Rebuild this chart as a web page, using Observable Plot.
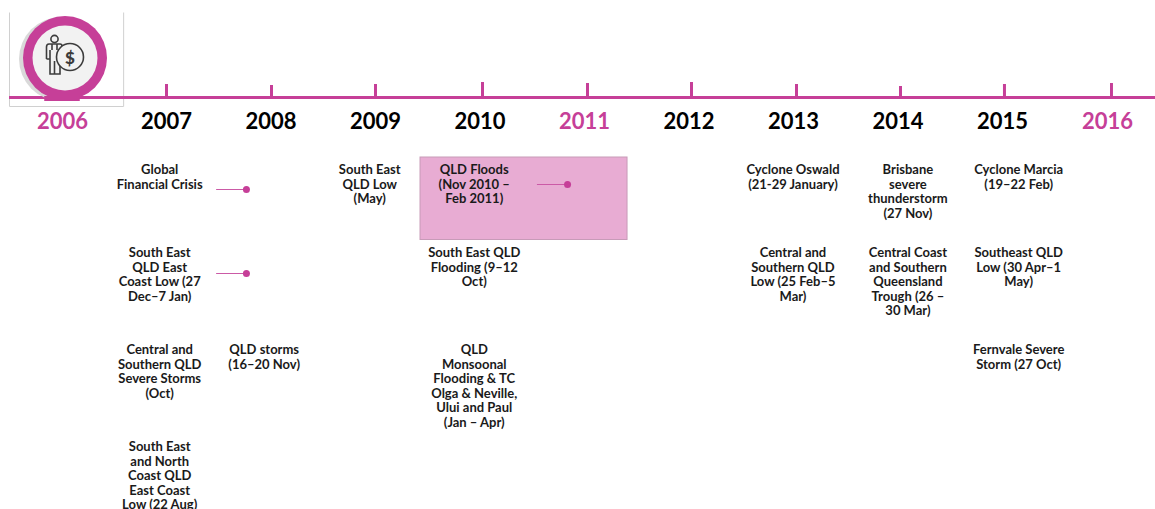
<!DOCTYPE html>
<html><head><meta charset="utf-8">
<script src="https://cdn.jsdelivr.net/npm/d3@7"></script>
<script src="https://cdn.jsdelivr.net/npm/@observablehq/plot@0.6"></script>
<style>html,body{margin:0;padding:0;background:#fff;overflow:hidden}svg{display:block}</style>
</head><body><div id="chart"></div>
<script>
const magenta = "#c63f98";
const years = [2006,2007,2008,2009,2010,2011,2012,2013,2014,2015,2016];
const labelYears = [2006,2006.995,2007.995,2008.995,2009.995,2010.995,2011.995,2012.995,2013.995,2014.995,2016];
const highlighted = [2006,2011,2016];
const tickYears = [2006.995,2008,2008.995,2010.019,2011.024,2012.019,2013.024,2014.019,2015.014,2016.038];
const tickTops = [84,85,84,82,83,82,84,86,84,83];
const rowTops = [163,246,343,440];
const eventYears = [2006.93,2006.93,2006.93,2006.93,2007.93,2008.94,2009.94,2009.94,2009.94,2012.99,2012.99,2014.09,2014.09,2015.15,2015.15,2015.15];
const eventRows = [0,1,2,3,2,0,0,1,2,0,1,0,1,0,1,2];
const eventTexts = [
 "Global\nFinancial Crisis",
 "South East\nQLD East\nCoast Low (27\nDec–7 Jan)",
 "Central and\nSouthern QLD\nSevere Storms\n(Oct)",
 "South East\nand North\nCoast QLD\nEast Coast\nLow (22 Aug)",
 "QLD storms\n(16–20 Nov)",
 "South East\nQLD Low\n(May)",
 "QLD Floods\n(Nov 2010 –\nFeb 2011)",
 "South East QLD\nFlooding (9–12\nOct)",
 "QLD\nMonsoonal\nFlooding & TC\nOlga & Neville,\nUlui and Paul\n(Jan – Apr)",
 "Cyclone Oswald\n(21-29 January)",
 "Central and\nSouthern QLD\nLow (25 Feb–5\nMar)",
 "Brisbane\nsevere\nthunderstorm\n(27 Nov)",
 "Central Coast\nand Southern\nQueensland\nTrough (26 –\n30 Mar)",
 "Cyclone Marcia\n(19–22 Feb)",
 "Southeast QLD\nLow (30 Apr–1\nMay)",
 "Fernvale Severe\nStorm (27 Oct)"
];
const events = eventTexts.map((text,i)=>({text,year:eventYears[i],y:rowTops[eventRows[i]]}));
const connStart = [2007.475,2007.475,2010.545];
const connEnd = [2007.76,2007.76,2010.833];
const connY = [189,273,184];
const connectors = connY.map((y,i)=>({x1:connStart[i],x2:connEnd[i],y}));
const ticks = tickYears.map((x,i)=>({x,top:tickTops[i]}));
const font = "Lato, 'Noto Sans', sans-serif";

function icon(index, {x, y}) {
  const g = d3.create("svg:g").attr("transform",`translate(${x(2006)+3},${y(58)})`);
  g.append("circle").attr("cx",-4).attr("cy",1).attr("r",42).attr("fill","#d9d9d9");
  g.append("circle").attr("r",42).attr("fill",magenta);
  g.append("circle").attr("r",32.5).attr("fill","#f2f2f2");
  const ink = "#3c3c3c";
  const p = g.append("g").attr("fill","none").attr("stroke",ink).attr("stroke-width",1.6);
  p.append("circle").attr("cx",-10.5).attr("cy",-19).attr("r",3.6);
  p.append("path").attr("d","M-18.5,1 V-11 Q-18.5,-14 -16,-14 H-5 Q-3,-14 -3,-12 M-18.5,1 H-15 V-8 M-15,1 V16 H-10.5 V3 M-10.5,3 V16 H-5 V8 M-8,-14 V-8 M-13,-14 V-8");
  p.append("circle").attr("cx",5).attr("cy",-1).attr("r",13.5).attr("fill","#f2f2f2");
  g.append("text").attr("x",5).attr("y",5.5).attr("text-anchor","middle").attr("font-family",font).attr("font-weight",900).attr("font-size",17).attr("fill",ink).text("$");
  return g.node();
}

const boxSides = [
  {x1:2005.493,x2:2005.493,y1:12,y2:106},
  {x1:2006.585,x2:2006.585,y1:12,y2:106},
  {x1:2005.493,x2:2006.585,y1:106,y2:106}
];

const chart = Plot.plot({
  width:1155, height:509,
  margin:0,
  x:{domain:[2006,2016],range:[62,1107],axis:null},
  y:{domain:[0,509],range:[0,509],axis:null},
  style:{background:"#fff",fontFamily:font},
  marks:[
    Plot.link(boxSides,{x1:"x1",x2:"x2",y1:"y1",y2:"y2",stroke:"#d0d0d0",strokeWidth:1}),
    Plot.rect([{x1:2009.426,x2:2011.407,y1:157,y2:239.5}],{x1:"x1",x2:"x2",y1:"y1",y2:"y2",fill:"#e8acd3",stroke:"#c79bb8",strokeWidth:1}),
    Plot.ruleY([97],{x1:2005.493,x2:2016.46,stroke:magenta,strokeWidth:3}),
    Plot.ruleX(ticks,{x:"x",y1:"top",y2:97,stroke:magenta,strokeWidth:3}),
    icon,
    Plot.rect([{x1:2005.83,x2:2006.17,y1:96,y2:101}],{x1:"x1",x2:"x2",y1:"y1",y2:"y2",fill:magenta}),
    Plot.text(years,{x:(d,i)=>labelYears[i],y:121,text:d=>String(d),fontSize:22,fontWeight:700,
      fill:d=>highlighted.includes(d)?magenta:"#000"}),
    Plot.text(events,{x:"year",y:"y",text:"text",lineAnchor:"top",lineHeight:1.125,fontSize:13,fontWeight:700,fill:"#1a1a1a"}),
    Plot.ruleY(connectors,{x1:"x1",x2:"x2",y:"y",stroke:"#cb5aa6",strokeWidth:1}),
    Plot.dot(connectors,{x:"x2",y:"y",r:3.5,fill:magenta})
  ]
});
document.getElementById("chart").append(chart);
</script>
</body></html>
